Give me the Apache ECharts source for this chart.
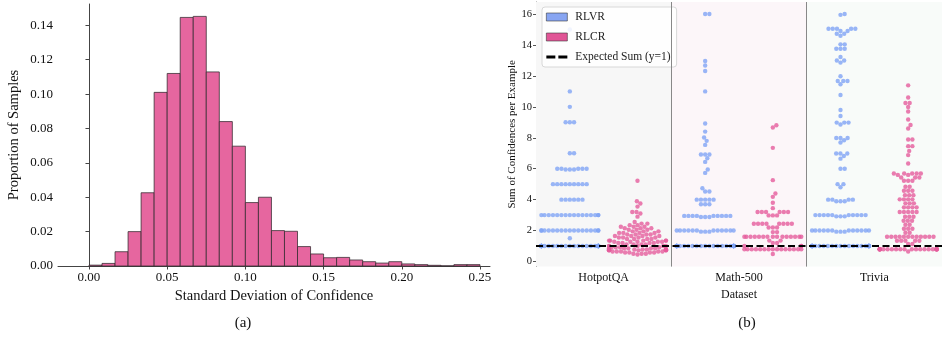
<!DOCTYPE html>
<html>
<head>
<meta charset="utf-8">
<script src="https://cdn.jsdelivr.net/npm/echarts@6/dist/echarts.min.js"></script>
<style>
  html, body { margin: 0; padding: 0; background: #fff; }
  #chart { width: 942px; height: 338px; }
</style>
</head>
<body>
<div id="chart"></div>
<script>
// (a) histogram: 30 bins from 0 to 0.25
const binStart = 0
const binEnd = 0.25
const histHeights = [
  0.0005, 0.0015, 0.0083, 0.020, 0.0426, 0.101, 0.112, 0.1446, 0.1452, 0.1129,
  0.084, 0.0697, 0.0369, 0.040, 0.0206, 0.0202, 0.0113, 0.0070, 0.0048, 0.0050,
  0.0035, 0.0025, 0.0017, 0.0025, 0.0012, 0.0008, 0.0004, 0.0001, 0.0008, 0.0008
]
const histXTicks = [0, 0.05, 0.10, 0.15, 0.20, 0.25]
const histYTicks = [0, 0.02, 0.04, 0.06, 0.08, 0.10, 0.12, 0.14]

// (b) swarm: [value, count] rows per dataset and method
const datasets = ['HotpotQA', 'Math-500', 'Trivia']
const swarmYTicks = [0, 2, 4, 6, 8, 10, 12, 14, 16]

const hotpotRLVR = [[1, 30], [1.5, 1], [2, 17], [3, 16], [4, 6], [5, 9], [5.95, 3], [6, 5], [7, 2],
  [9, 3], [10, 1], [11, 1], [15, 1]]
const hotpotRLCR = [[0.45, 1], [0.5, 3], [0.58, 4], [0.65, 5], [0.72, 5], [0.78, 8], [0.85, 5], [0.92, 4],
  [1.0, 5], [1.1, 4], [1.2, 4], [1.28, 5], [1.35, 5], [1.45, 4], [1.55, 4], [1.65, 4], [1.75, 4],
  [1.85, 4], [1.95, 3], [2.05, 3], [2.15, 3], [2.25, 3], [2.35, 2], [2.45, 2], [2.55, 1], [2.9, 1],
  [3.1, 1], [3.2, 2], [3.55, 1], [3.75, 1], [3.9, 1], [5.22, 1]]

const mathRLVR = [[1, 30], [1.93, 3], [2.0, 12], [2.88, 3], [2.95, 9], [3.7, 3], [4.0, 5], [4.53, 2],
  [4.74, 1], [5.73, 1], [5.95, 1], [6.44, 1], [6.68, 1], [6.92, 3], [7.54, 1], [7.8, 1], [8.02, 1],
  [8.4, 1], [8.92, 1], [11, 1], [12.32, 1], [12.67, 1], [12.96, 1], [16, 2]]
const mathRLCR = [[0.48, 1], [0.79, 15], [1.0, 3], [1.2, 2], [1.35, 2], [1.6, 15], [1.9, 2], [2.2, 3],
  [2.44, 8], [2.98, 3], [3.2, 6], [3.45, 1], [3.8, 1], [4.18, 1], [4.4, 1], [5.26, 1], [7.35, 1],
  [8.66, 1], [8.81, 1]]

const triviaRLVR = [[1, 30], [1.93, 3], [2.0, 12], [2.92, 3], [3.0, 10], [3.9, 3], [4.0, 4], [4.8, 1],
  [5.0, 2], [6.0, 2], [6.65, 1], [6.82, 1], [6.98, 3], [7.69, 1], [7.84, 1], [7.99, 3], [8.86, 1],
  [8.98, 3], [9.41, 1], [9.8, 1], [10.77, 1], [11.46, 1], [11.67, 3], [11.98, 1], [12.86, 1], [13.0, 2],
  [13.22, 1], [13.76, 3], [14.04, 2], [14.6, 1], [14.73, 2], [14.9, 2], [15.05, 5], [15.95, 1], [16, 1]]
const triviaRLCR = [[0.65, 1], [0.79, 22], [1.13, 2], [1.34, 5], [1.6, 12], [1.86, 2], [2.12, 3],
  [2.38, 2], [2.63, 3], [2.89, 3], [3.2, 5], [3.5, 4], [3.76, 3], [4.02, 4], [4.29, 3], [4.57, 3],
  [4.83, 2], [5.22, 3], [5.43, 3], [5.6, 2], [5.69, 5], [6.34, 1], [6.88, 1], [7.15, 1], [7.46, 2],
  [7.89, 2], [8.6, 1], [8.83, 1], [9.18, 1], [9.7, 1], [9.99, 1], [10.25, 2], [10.6, 1], [11.39, 1]]

const FONT = 'Liberation Serif'
const SWARM_Y = [-0.33, 16.78]
const SWARM_H = 264.6
const CAT_PX = 138
const DOT = 4.3
const HALF_W = 29

// simple beeswarm: sort by value, put each dot at the smallest offset that doesn't overlap
const swarm = (rows, center) => {
  const pxPerY = SWARM_H / (SWARM_Y[1] - SWARM_Y[0])
  const vals = []
  rows.forEach(([v, n]) => { for (let i = 0; i < n; i++) vals.push(v) })
  vals.sort((a, b) => a - b)
  const placed = []
  return vals.map(v => {
    const y = v * pxPerY
    const near = placed.filter(p => Math.abs(p.y - y) < DOT)
    const cands = [0]
    near.forEach(p => {
      const dx = Math.sqrt(DOT * DOT - (p.y - y) ** 2)
      cands.push(p.x + dx, p.x - dx)
    })
    cands.sort((a, b) => Math.abs(a) - Math.abs(b))
    const x = cands.find(c => near.every(p => (p.x - c) ** 2 + (p.y - y) ** 2 >= DOT * DOT - 1e-6))
    placed.push({ x, y })
    const clipped = Math.max(-HALF_W, Math.min(HALF_W, x))
    return [center + clipped / CAT_PX, v]
  })
}

const rlvrPoints = [
  ...swarm(hotpotRLVR, 0.25), ...swarm(mathRLVR, 1.25), ...swarm(triviaRLVR, 2.25)
]
const rlcrPoints = [
  ...swarm(hotpotRLCR, 0.75), ...swarm(mathRLCR, 1.75), ...swarm(triviaRLCR, 2.75)
]

const binW = (binEnd - binStart) / histHeights.length
const histData = histHeights.map((h, i) => [binStart + i * binW, binStart + (i + 1) * binW, h])

const chart = echarts.init(document.getElementById('chart'))

const option = {
  animation: false,
  textStyle: { fontFamily: FONT },
  grid: [
    { left: 58, top: 4, width: 432, height: 262 },
    { left: 536, top: 2, width: 414, height: SWARM_H }
  ],
  legend: {
    orient: 'vertical',
    left: 542,
    top: 7,
    padding: [4, 6, 4, 4],
    itemWidth: 21,
    itemHeight: 8,
    itemGap: 8,
    backgroundColor: 'rgba(255,255,255,0.85)',
    borderColor: '#d8d8d8',
    borderWidth: 1,
    borderRadius: 3,
    textStyle: { fontFamily: FONT, fontSize: 11.5, color: '#222', padding: [0, 0, 0, 3] },
    data: [
      { name: 'RLVR', icon: 'rect', itemStyle: { color: '#6a8fef', borderColor: '#333', borderWidth: 0.7 } },
      { name: 'RLCR', icon: 'rect', itemStyle: { color: '#d92a7c', borderColor: '#333', borderWidth: 0.7 } },
      { name: 'Expected Sum (y=1)', icon: 'path://M0,0h9v3h-9z M12,0h9v3h-9z', itemStyle: { color: '#000' } }
    ]
  },
  xAxis: [
    {
      gridIndex: 0,
      type: 'value',
      min: -0.0198,
      max: 0.2564,
      name: 'Standard Deviation of Confidence',
      nameLocation: 'middle',
      nameGap: 21,
      nameTextStyle: { fontFamily: FONT, fontSize: 14.5, color: '#111' },
      axisLine: { lineStyle: { color: '#444', width: 1 } },
      axisTick: { customValues: histXTicks, length: 3.5, lineStyle: { color: '#444' } },
      axisLabel: {
        customValues: histXTicks,
        formatter: v => v.toFixed(2),
        fontFamily: FONT, fontSize: 13, color: '#111', margin: 5
      },
      splitLine: { show: false }
    },
    {
      gridIndex: 1,
      type: 'value',
      min: 0,
      max: 3,
      name: 'Dataset',
      nameLocation: 'middle',
      nameGap: 17,
      nameTextStyle: { fontFamily: FONT, fontSize: 12, color: '#111' },
      axisLine: { lineStyle: { color: '#777', width: 1 } },
      axisTick: { customValues: [0.5, 1.5, 2.5], length: 3.5, lineStyle: { color: '#555' } },
      axisLabel: {
        customValues: [0.5, 1.5, 2.5],
        formatter: v => datasets[Math.floor(v)],
        fontFamily: FONT, fontSize: 12, color: '#111', margin: 5
      },
      splitLine: { show: false }
    }
  ],
  yAxis: [
    {
      gridIndex: 0,
      type: 'value',
      min: 0,
      max: 0.1524,
      name: 'Proportion of Samples',
      nameLocation: 'middle',
      nameGap: 36,
      nameTextStyle: { fontFamily: FONT, fontSize: 14.5, color: '#111' },
      axisLine: { show: true, lineStyle: { color: '#444', width: 1 } },
      axisTick: { show: true, customValues: histYTicks, length: 3.5, lineStyle: { color: '#444' } },
      axisLabel: {
        customValues: histYTicks,
        formatter: v => v.toFixed(2),
        fontFamily: FONT, fontSize: 13, color: '#111', margin: 5
      },
      splitLine: { show: false }
    },
    {
      gridIndex: 1,
      type: 'value',
      min: SWARM_Y[0],
      max: SWARM_Y[1],
      name: 'Sum of Confidences per Example',
      nameLocation: 'middle',
      nameGap: 14,
      nameTextStyle: { fontFamily: FONT, fontSize: 11, color: '#111' },
      axisLine: { show: true, lineStyle: { color: '#777', width: 1 } },
      axisTick: { show: true, customValues: swarmYTicks, length: 3, lineStyle: { color: '#555' } },
      axisLabel: {
        customValues: swarmYTicks,
        fontFamily: FONT, fontSize: 10.5, color: '#111', margin: 4
      },
      splitLine: { show: false }
    }
  ],
  series: [
    {
      type: 'custom',
      xAxisIndex: 0,
      yAxisIndex: 0,
      data: histData,
      encode: { x: [0, 1], y: 2 },
      renderItem: (params, api) => {
        const p0 = api.coord([api.value(0), api.value(2)])
        const p1 = api.coord([api.value(1), 0])
        return {
          type: 'rect',
          shape: { x: p0[0], y: p0[1], width: p1[0] - p0[0], height: p1[1] - p0[1] },
          style: { fill: '#e6669f', stroke: 'rgba(50,40,45,0.75)', lineWidth: 1 }
        }
      }
    },
    {
      // panel backgrounds and separators
      type: 'scatter',
      xAxisIndex: 1,
      yAxisIndex: 1,
      data: [],
      z: 0,
      silent: true,
      markArea: {
        silent: true,
        data: [
          [{ xAxis: 0, itemStyle: { color: '#f7f7f7' } }, { xAxis: 1 }],
          [{ xAxis: 1, itemStyle: { color: '#fcf6f9' } }, { xAxis: 2 }],
          [{ xAxis: 2, itemStyle: { color: '#f8fbf9' } }, { xAxis: 3 }]
        ]
      },
      markLine: {
        silent: true,
        symbol: 'none',
        label: { show: false },
        lineStyle: { color: '#888', type: 'solid', width: 1 },
        data: [{ xAxis: 1 }, { xAxis: 2 }]
      }
    },
    {
      name: 'RLVR',
      type: 'scatter',
      xAxisIndex: 1,
      yAxisIndex: 1,
      symbolSize: 4.4,
      itemStyle: { color: '#7fa4f5' },
      data: rlvrPoints,
      z: 2
    },
    {
      name: 'RLCR',
      type: 'scatter',
      xAxisIndex: 1,
      yAxisIndex: 1,
      symbolSize: 4.4,
      itemStyle: { color: '#e55c9c' },
      data: rlcrPoints,
      z: 2
    },
    {
      name: 'Expected Sum (y=1)',
      type: 'line',
      xAxisIndex: 1,
      yAxisIndex: 1,
      showSymbol: false,
      symbol: 'none',
      lineStyle: { color: '#000', width: 2, type: [7, 3.5] },
      itemStyle: { color: '#000' },
      data: [[0, 1], [3, 1]],
      z: 3
    }
  ],
  graphic: [
    { type: 'text', x: 243, y: 323, style: { text: '(a)', font: '15px "Liberation Serif"', fill: '#111', textAlign: 'center', textVerticalAlign: 'middle' } },
    { type: 'text', x: 747, y: 323, style: { text: '(b)', font: '15px "Liberation Serif"', fill: '#111', textAlign: 'center', textVerticalAlign: 'middle' } }
  ]
}

chart.setOption(option)
</script>
</body>
</html>
